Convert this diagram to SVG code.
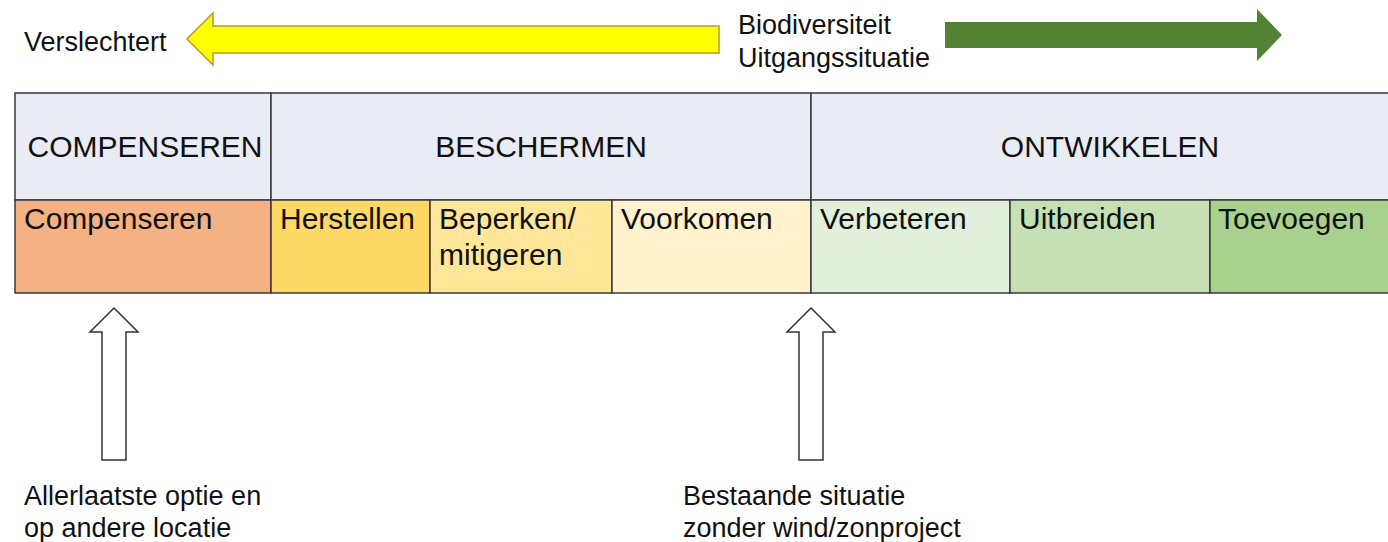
<svg xmlns="http://www.w3.org/2000/svg" width="1388" height="542" viewBox="0 0 1388 542">
<style>
text{font-family:"Liberation Sans",Arial,sans-serif;fill:#111}
.lbl{font-size:27px}
.hd{font-size:30px;text-anchor:middle}
.cl{font-size:30px}
.cell{stroke:#3a3a3a;stroke-width:1.5}
.up{fill:#fff;stroke:#333;stroke-width:1.5}
</style>
<rect width="1388" height="542" fill="#fff"/>
<g id="arrow-worse">
<polygon points="187,39 213,13 213,26 719,26 719,53 213,53 213,65" fill="#ffff00" stroke="#b8982a" stroke-width="1.5"/>
</g>
<g id="arrow-better">
<polygon points="945,22 1257,22 1257,9 1282,35 1257,61 1257,48 945,48" fill="#548235"/>
</g>
<g id="label-verslechtert"><text class="lbl" x="24" y="51">Verslechtert</text></g>
<g id="label-biodiversiteit"><text class="lbl" x="738" y="34">Biodiversiteit</text><text class="lbl" x="738" y="67">Uitgangssituatie</text></g>
<g id="hdr-compenseren"><rect class="cell" x="15" y="93" width="256" height="107" fill="#e9ebf5"/><text class="hd" x="145" y="157">COMPENSEREN</text></g>
<g id="hdr-beschermen"><rect class="cell" x="271" y="93" width="540" height="107" fill="#e9ebf5"/><text class="hd" x="541" y="157">BESCHERMEN</text></g>
<g id="hdr-ontwikkelen"><rect class="cell" x="811" y="93" width="600" height="107" fill="#e9ebf5"/><text class="hd" x="1110" y="157">ONTWIKKELEN</text></g>
<g id="c-compenseren"><rect class="cell" x="15" y="200" width="256" height="93" fill="#f4b183"/><text class="cl" x="24" y="229">Compenseren</text></g>
<g id="c-herstellen"><rect class="cell" x="271" y="200" width="159" height="93" fill="#ffd966"/><text class="cl" x="280" y="229">Herstellen</text></g>
<g id="c-beperken"><rect class="cell" x="430" y="200" width="182" height="93" fill="#ffe699"/><text class="cl" x="439" y="229">Beperken/</text><text class="cl" x="439" y="265">mitigeren</text></g>
<g id="c-voorkomen"><rect class="cell" x="612" y="200" width="199" height="93" fill="#fff2cc"/><text class="cl" x="621" y="229">Voorkomen</text></g>
<g id="c-verbeteren"><rect class="cell" x="811" y="200" width="199" height="93" fill="#e2efda"/><text class="cl" x="820" y="229">Verbeteren</text></g>
<g id="c-uitbreiden"><rect class="cell" x="1010" y="200" width="200" height="93" fill="#c5e0b4"/><text class="cl" x="1019" y="229">Uitbreiden</text></g>
<g id="c-toevoegen"><rect class="cell" x="1210" y="200" width="200" height="93" fill="#a9d18e"/><text class="cl" x="1218" y="229">Toevoegen</text></g>
<g id="connectors">
<polygon class="up" points="114,308 138,332 126,332 126,460 102,460 102,332 90,332"/>
<polygon class="up" points="811,308 835,332 823,332 823,460 799,460 799,332 787,332"/>
</g>
<g id="note-left"><text class="lbl" x="24" y="505">Allerlaatste optie en</text><text class="lbl" x="24" y="537">op andere locatie</text></g>
<g id="note-right"><text class="lbl" x="683" y="505">Bestaande situatie</text><text class="lbl" x="683" y="537">zonder wind/zonproject</text></g>
</svg>
